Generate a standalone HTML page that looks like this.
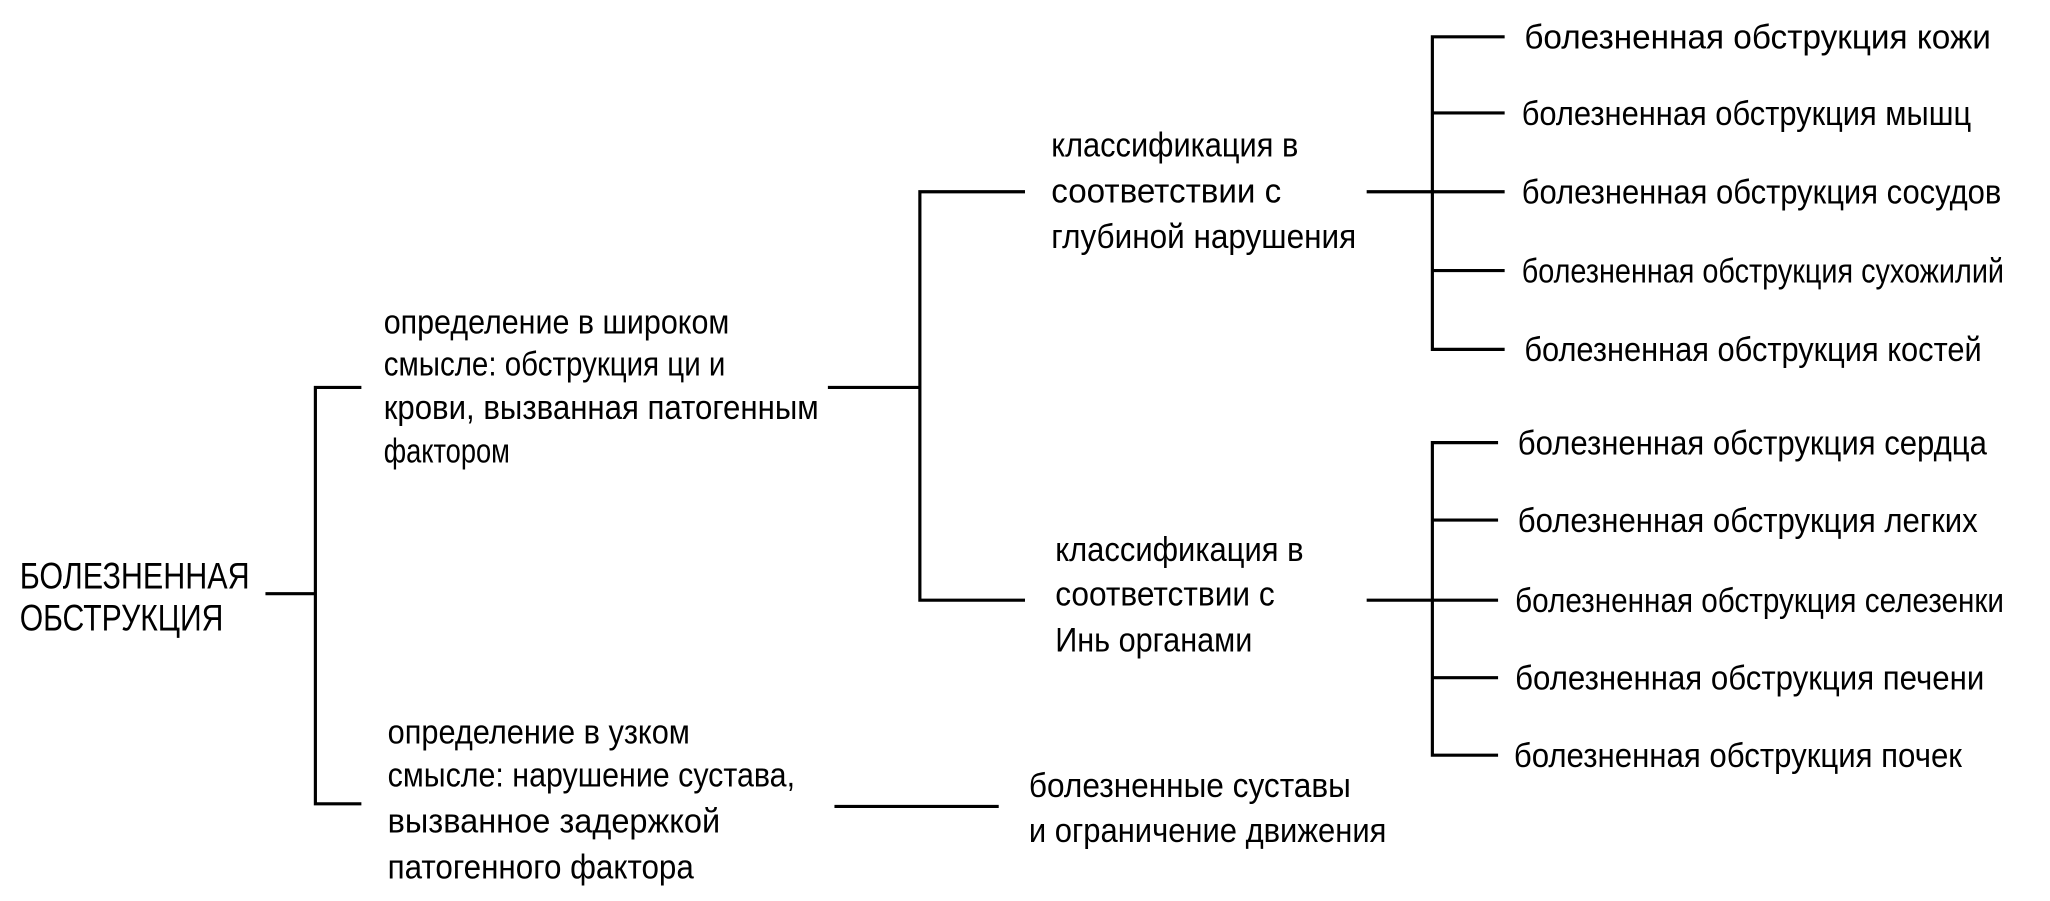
<!DOCTYPE html>
<html><head><meta charset="utf-8"><style>
html,body{margin:0;padding:0;background:#fff;}
svg{display:block;}
text{font-family:"Liberation Sans",sans-serif;font-size:26px;fill:#000;}
.r{font-size:28px;}
</style></head><body>
<svg width="2050" height="901" viewBox="0 0 1560 686" preserveAspectRatio="none" xmlns="http://www.w3.org/2000/svg">
<g stroke="#000" stroke-width="2.4" fill="none">
<path d="M202 452H240M275 295H240V612H275"/>
<path d="M630 295H700M780 146H700V457H780"/>
<path d="M1040 146H1145M1145 28H1090V266H1145M1090 86H1145M1090 206H1145"/>
<path d="M1040 457H1140M1140 337H1090V575H1140M1090 396H1140M1090 516H1140"/>
<path d="M635 614H760"/>
</g>
<g>
<text class="r" x="15" y="448" textLength="175" lengthAdjust="spacingAndGlyphs">БОЛЕЗНЕННАЯ</text>
<text class="r" x="15" y="480" textLength="155" lengthAdjust="spacingAndGlyphs">ОБСТРУКЦИЯ</text>

<text x="292" y="254" textLength="263" lengthAdjust="spacingAndGlyphs">определение в широком</text>
<text x="292" y="286" textLength="260" lengthAdjust="spacingAndGlyphs">смысле: обструкция ци и</text>
<text x="292" y="319" textLength="331" lengthAdjust="spacingAndGlyphs">крови, вызванная патогенным</text>
<text x="292" y="352" textLength="96" lengthAdjust="spacingAndGlyphs">фактором</text>

<text x="295" y="566" textLength="230" lengthAdjust="spacingAndGlyphs">определение в узком</text>
<text x="295" y="599" textLength="310" lengthAdjust="spacingAndGlyphs">смысле: нарушение сустава,</text>
<text x="295" y="634" textLength="253" lengthAdjust="spacingAndGlyphs">вызванное задержкой</text>
<text x="295" y="669" textLength="233" lengthAdjust="spacingAndGlyphs">патогенного фактора</text>

<text x="800" y="119" textLength="188" lengthAdjust="spacingAndGlyphs">классификация в</text>
<text x="800" y="154" textLength="175" lengthAdjust="spacingAndGlyphs">соответствии с</text>
<text x="800" y="189" textLength="232" lengthAdjust="spacingAndGlyphs">глубиной нарушения</text>

<text x="803" y="427" textLength="189" lengthAdjust="spacingAndGlyphs">классификация в</text>
<text x="803" y="461" textLength="167" lengthAdjust="spacingAndGlyphs">соответствии с</text>
<text x="803" y="496" textLength="150" lengthAdjust="spacingAndGlyphs">Инь органами</text>

<text x="783" y="607" textLength="245" lengthAdjust="spacingAndGlyphs">болезненные суставы</text>
<text x="783" y="641" textLength="272" lengthAdjust="spacingAndGlyphs">и ограничение движения</text>

<text x="1160" y="37" textLength="355" lengthAdjust="spacingAndGlyphs">болезненная обструкция кожи</text>
<text x="1158" y="95" textLength="342" lengthAdjust="spacingAndGlyphs">болезненная обструкция мышц</text>
<text x="1158" y="155" textLength="365" lengthAdjust="spacingAndGlyphs">болезненная обструкция сосудов</text>
<text x="1158" y="215" textLength="367" lengthAdjust="spacingAndGlyphs">болезненная обструкция сухожилий</text>
<text x="1160" y="275" textLength="348" lengthAdjust="spacingAndGlyphs">болезненная обструкция костей</text>

<text x="1155" y="346" textLength="357" lengthAdjust="spacingAndGlyphs">болезненная обструкция сердца</text>
<text x="1155" y="405" textLength="350" lengthAdjust="spacingAndGlyphs">болезненная обструкция легких</text>
<text x="1153" y="466" textLength="372" lengthAdjust="spacingAndGlyphs">болезненная обструкция селезенки</text>
<text x="1153" y="525" textLength="357" lengthAdjust="spacingAndGlyphs">болезненная обструкция печени</text>
<text x="1152" y="584" textLength="341" lengthAdjust="spacingAndGlyphs">болезненная обструкция почек</text>
</g>
</svg>
</body></html>
